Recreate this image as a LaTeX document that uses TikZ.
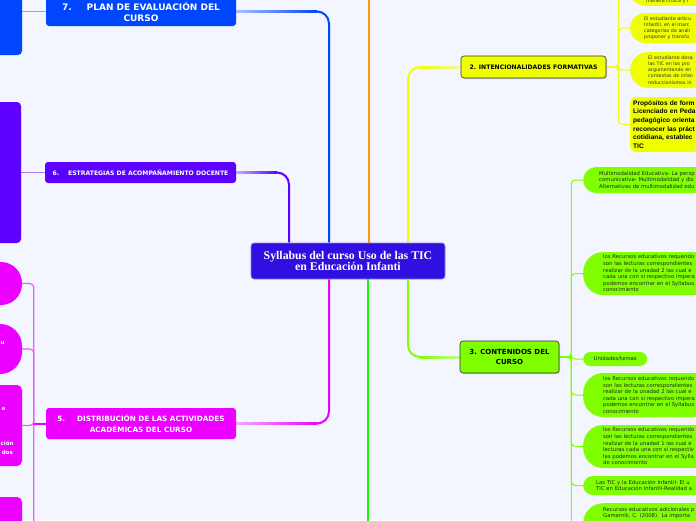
\documentclass[tikz,border=0pt]{standalone}
\usepackage{fontspec}
\setmainfont{DejaVu Sans}
\newfontfamily\titlefont{Liberation Serif}
\newfontfamily\boldsans{Liberation Sans}
\usetikzlibrary{shadows,calc}
\pgfdeclarelayer{back}
\pgfsetlayers{back,main}
\definecolor{bg}{RGB}{243,246,254}
\definecolor{cmain}{RGB}{48,16,224}
\definecolor{cblue}{RGB}{0,70,255}
\definecolor{cpurple}{RGB}{92,0,255}
\definecolor{cmag}{RGB}{236,0,255}
\definecolor{corange}{RGB}{255,153,0}
\definecolor{cyellow}{RGB}{240,255,0}
\definecolor{cgreen}{RGB}{17,255,0}
\definecolor{clime}{RGB}{128,255,0}
\tikzset{
  central/.style={rectangle, rounded corners=3, fill=cmain, draw=cmain!55!white, line width=0.6,
    minimum width=194, minimum height=36, inner sep=0, align=center, text=white,
    font=\titlefont\bfseries\fontsize{11.8}{11.5}\selectfont},
  topic/.style={rectangle, rounded corners=3, inner sep=0, align=center, text=white, font=\bfseries},
  topicb/.style={rectangle, rounded corners=3, inner sep=0, align=center, text=black, font=\bfseries,
    draw=black!80, line width=0.6, drop shadow={shadow xshift=1pt, shadow yshift=-1pt, opacity=0.35}},
  leafbox/.style={rectangle, inner sep=0},
  lchild/.style={rectangle, fill=clime, anchor=west, inner ysep=0, text width=170, align=left,
    font=\fontsize{5.3}{6.6}\selectfont, text=black!85},
  ychild/.style={rectangle, fill=cyellow, anchor=west, inner ysep=0, text width=150, align=left,
    font=\fontsize{4.8}{6.2}\selectfont, text=black!80},
  frag/.style={inner sep=0, text=white, font=\bfseries\fontsize{5.5}{7}\selectfont},
  br/.style={line width=2, rounded corners=12},
  thin/.style={line width=1, rounded corners=4},
}
\begin{document}
\begin{tikzpicture}[x=1pt,y=-1pt]
\useasboundingbox (0,0) rectangle (696,520);
% central
\node[central] (c) at (348,261) {Syllabus del curso Uso de las TIC\\en Educación Infanti};
% main topics
\node[topic, fill=cblue, minimum width=190, minimum height=29, font=\bfseries\fontsize{9}{11}\selectfont] (n7) at (141,11.5)
  {7.\hspace{15pt}PLAN DE EVALUACIÓN DEL\\CURSO};
\node[topic, fill=cpurple, minimum width=191, minimum height=21, font=\bfseries\fontsize{6.1}{7}\selectfont] (n6) at (140.5,172.5)
  {6.\hspace{9pt}ESTRATEGIAS DE ACOMPAÑAMIENTO DOCENTE};
\node[topic, fill=cmag, minimum width=190, minimum height=31, font=\bfseries\fontsize{7.25}{11}\selectfont] (n5) at (141,423.5)
  {5.\hspace{12pt}DISTRIBUCIÓN DE LAS ACTIVIDADES\\ACADÉMICAS DEL CURSO};
\node[topicb, fill=cyellow, minimum width=145, minimum height=22, font=\bfseries\fontsize{6.1}{7}\selectfont] (n2) at (533.5,67)
  {2. INTENCIONALIDADES FORMATIVAS};
\node[topicb, fill=clime, minimum width=99, minimum height=32, font=\bfseries\fontsize{7}{10.7}\selectfont] (n3) at (509.5,357)
  {3. CONTENIDOS DEL\\CURSO};
% left boxes
\node[leafbox, fill=cblue, rounded corners=4, minimum width=122, minimum height=85] (b7) at (-39,12.5) {};
\node[leafbox, fill=cpurple, rounded corners=4, minimum width=121, minimum height=141] (p6) at (-39.5,172.5) {};
% magenta children
\node[leafbox, fill=cmag, rounded corners=21, minimum width=172, minimum height=43] (m1) at (-64,283.5) {};
\node[leafbox, fill=cmag, rounded corners=22, minimum width=172, minimum height=50] (m2) at (-64,349) {};
\node[leafbox, fill=cmag, rounded corners=5, minimum width=172, minimum height=81] (m3) at (-64,425.5) {};
\node[leafbox, fill=cmag, rounded corners=5, minimum width=172, minimum height=68] (m4) at (-64,531) {};
\node[frag, anchor=west] (f1) at (0.5,343) {u};
\node[frag, anchor=east] (f2) at (5.5,409) {a};
\node[frag, anchor=west] (f3) at (0.5,443) {ción};
\node[frag, anchor=east] (f4) at (13,452) {dos};
% yellow children
\node[ychild, anchor=south west, rounded corners=15, inner xsep=16, inner ysep=2] (ya) at (630,6)
  {\rule{0pt}{30pt}manera crítica y r};
\node[ychild, rounded corners=15, inner xsep=14, minimum height=30] (yb) at (630,28)
  {El estudiante articu\\Infantil, en el marc\\categorías de análi\\proponer y transfo};
\node[ychild, rounded corners=18, inner xsep=18, minimum height=36] (yc) at (630,70)
  {El estudiante desa\\las TIC en los pro\\argumentando en\\contextos de infan\\reduccionismos in};
\node[ychild, rounded corners=6, inner xsep=3, minimum height=55, text=black,
  font=\boldsans\bfseries\fontsize{6.6}{8.6}\selectfont] (yd) at (630,124.5)
  {Propósitos de form\\Licenciado en Peda\\pedagógico orienta\\reconocer las práct\\cotidiana, establec\\TIC};
% lime children
\node[lchild, rounded corners=13, inner xsep=16, minimum height=26] (l1) at (583,180)
  {Multimodalidad Educativa- La persp\\comunicativa- Multimodalidad y dis\\Alternativas de multimodalidad edu};
\node[lchild, rounded corners=20, inner xsep=20, minimum height=43] (l2) at (583,273.5)
  {los Recursos educativos requerido\\son las lecturas correspondientes\\realizar de la unadad 2 las cual e\\cada una con si respectivo impera\\podemos encontrar en el Syllabus\\conocimiento};
\node[rectangle, fill=clime, anchor=west, rounded corners=7, inner sep=0, minimum width=64, minimum height=14,
  font=\fontsize{5.3}{6.6}\selectfont, text=black!85] (l3) at (583,359)
  {Unidades/temas};
\node[lchild, rounded corners=20, inner xsep=20, minimum height=44] (l4) at (583,395)
  {los Recursos educativos requerido\\son las lecturas correspondientes\\realizar de la unadad 2 las cual e\\cada una con si respectivo impera\\podemos encontrar en el Syllabus\\conocimiento};
\node[lchild, rounded corners=20, inner xsep=20, minimum height=43] (l5) at (583,446.5)
  {los Recursos educativos requerido\\son las lecturas correspondientes\\realizar de la unadad 1 las cual e\\lecturas cada una con si respectiv\\las podemos encontrar en el Sylla\\de conocimiento};
\node[lchild, rounded corners=9.5, inner xsep=13, minimum height=19] (l6) at (583,485.5)
  {Las TIC y la Educación Infantil- El u\\TIC en Educación Infantil-Realidad a};
\node[lchild, anchor=north west, rounded corners=20, inner xsep=20, inner ysep=4] (l7) at (583,503)
  {Recursos educativos adicionales p\\Gamarnik, C. (2008). La importa\rule[-30pt]{0pt}{0pt}};
% free ends
\coordinate (oEnd) at (369,-10);
\coordinate (gEnd) at (368,530);
\begin{pgfonlayer}{back}
\fill[bg] (0,0) rectangle (696,520);
\clip (0,0) rectangle (696,520);
% main branches
\draw[br, cpurple] ($(c.north)+(-59,0)$) |- (n6.east);
\shade[left color=cpurple!30!bg, right color=cpurple] ($(n6.east)+(0,-1)$) rectangle ($(n6.east)+(41,1)$);
\draw[br, cblue] ($(c.north)+(-19,0)$) |- (n7.east);
\shade[left color=cblue!30!bg, right color=cblue] ($(n7.east)+(0,-1)$) rectangle ($(n7.east)+(81,1)$);
\draw[br, corange] ($(c.north)+(21,0)$) -- (oEnd);
\draw[br, cyellow] ($(c.north)+(60,0)$) |- (n2.west);
\shade[left color=cyellow, right color=cyellow!35!bg] ($(n2.west)+(-41,-1)$) rectangle ($(n2.west)+(0,1)$);
\draw[br, cmag] ($(c.south)+(-19,0)$) |- (n5.east);
\shade[left color=cmag!30!bg, right color=cmag] ($(n5.east)+(0,-1)$) rectangle ($(n5.east)+(81,1)$);
\draw[br, cgreen] ($(c.south)+(20,0)$) -- (gEnd);
\draw[br, clime] ($(c.south)+(60,0)$) |- (n3.west);
\shade[left color=clime, right color=clime!40!bg] ($(n3.west)+(-40,-1)$) rectangle ($(n3.west)+(0,1)$);
% left stubs
\draw[line width=1.5, cblue!45!bg] (n7.west) -- (n7.west -| b7.east);
\draw[line width=1.5, cpurple!50!bg] (n6.west) -- (n6.west -| p6.east);
% yellow children
\foreach \t in {ya,yb,yc,yd} \draw[thin, cyellow] (n2.east) -- ($(n2.east)+(12,0)$) |- (\t.west);
% lime children
\foreach \t in {l1,l2,l3,l4,l5,l6,l7} \draw[thin, clime] (n3.east) -- ($(n3.east)+(12,0)$) |- (\t.west);
\draw[line width=1.5, clime] (n3.east) -- ($(n3.east)+(12,0)$);
% magenta children
\foreach \t in {m1,m2,m3,m4} \draw[line width=1.2, rounded corners=4, cmag!65!white] ($(n5.west)+(-12,0)$) |- (\t.east);
\draw[line width=2, cmag] (n5.west) -- ($(n5.west)+(-12,0)$);
\end{pgfonlayer}
\end{tikzpicture}
\end{document}
